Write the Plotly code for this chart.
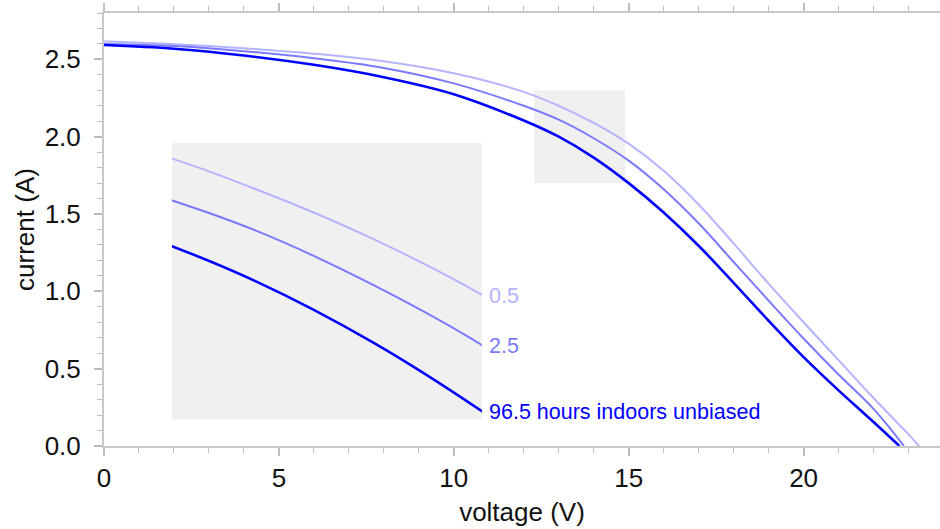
import numpy as np
import plotly.graph_objects as go

# ---- data ----
v_96 = [0, 2, 4, 6, 8, 10, 12, 13, 14, 15, 16, 17, 18, 19, 20, 21, 22, 22.74]
i_96 = [2.593, 2.569, 2.525, 2.465, 2.385, 2.275, 2.105, 2.0, 1.865, 1.70, 1.51, 1.295, 1.055, 0.81, 0.575, 0.36, 0.155, 0.0]

v_25 = [0, 2, 4, 6, 8, 10, 12, 13, 14, 15, 16, 17, 18, 19, 20, 21, 22, 22.87]
i_25 = [2.60, 2.586, 2.553, 2.507, 2.445, 2.345, 2.20, 2.11, 1.99, 1.845, 1.66, 1.44, 1.19, 0.94, 0.695, 0.462, 0.24, 0.0]

v_05 = [0, 2, 4, 6, 8, 10, 12, 13, 14, 15, 16, 17, 18, 19, 20, 21, 22, 23, 23.3]
i_05 = [2.615, 2.598, 2.572, 2.537, 2.488, 2.41, 2.29, 2.20, 2.09, 1.955, 1.78, 1.562, 1.31, 1.05, 0.80, 0.555, 0.31, 0.075, 0.0]

labels = ["0.5", "2.5", "96.5 hours indoors unbiased"]
colors = ["#b4b4ff", "#7a7aff", "#0000ff"]
widths = [2, 2, 2.6]
series = [(v_05, i_05), (v_25, i_25), (v_96, i_96)]

zoom_x = [12.3, 14.9]
zoom_y = [1.7, 2.3]

x_range = [0, 23.9]
y_range = [0, 2.8]

inset_xdom = [0.0813, 0.452]
inset_ydom = [0.0617, 0.700]

FONT = "Liberation Sans, Arial, Helvetica, sans-serif"

fig = go.Figure()

for ax, ay in (("x", "y"), ("x2", "y2")):
    for (v, i), c, w in zip(series, colors, widths):
        fig.add_trace(go.Scatter(x=v, y=i, mode="lines",
                                 line=dict(color=c, width=w, shape="spline", smoothing=1.0),
                                 xaxis=ax, yaxis=ay, showlegend=False, hoverinfo="skip"))

# grey highlight in main plot
fig.add_shape(type="rect", xref="x", yref="y", x0=zoom_x[0], x1=zoom_x[1], y0=zoom_y[0], y1=zoom_y[1],
              fillcolor="#f0f0f0", line=dict(width=0), layer="below")
# grey inset background
fig.add_shape(type="rect", xref="paper", yref="paper", x0=inset_xdom[0], x1=inset_xdom[1],
              y0=inset_ydom[0], y1=inset_ydom[1],
              fillcolor="#f0f0f0", line=dict(width=0), layer="below")

for (v, i), c, lab in zip(series, colors, labels):
    yend = float(np.interp(zoom_x[1], v, i))
    fig.add_annotation(x=zoom_x[1], y=yend, xref="x2", yref="y2", text=lab, showarrow=False,
                       xanchor="left", yanchor="middle", xshift=5,
                       font=dict(family=FONT, size=21.5, color=c))

axis_common = dict(showgrid=False, zeroline=False, linecolor="#c8c8c8", linewidth=2,
                   ticks="outside", tickcolor="#bdbdbd", tickwidth=1.5, ticklen=8,
                   tickfont=dict(family=FONT, size=26, color="#111111"),
                   title_font=dict(family=FONT, size=26, color="#111111"))

fig.update_layout(
    width=940, height=529,
    margin=dict(l=104, r=0, t=13, b=83),
    paper_bgcolor="white", plot_bgcolor="rgba(0,0,0,0)",
    xaxis=dict(range=x_range, dtick=5, tick0=0, mirror="ticks", showline=True,
               title=dict(text="voltage (V)", standoff=11),
               minor=dict(dtick=1, ticklen=5, ticks="outside", tickcolor="#bdbdbd", tickwidth=1.2),
               **axis_common),
    yaxis=dict(range=y_range, dtick=0.5, tick0=0, tickformat=".1f", showline=True, mirror=False,
               ticklabelstandoff=8,
               title=dict(text="current (A)", standoff=3),
               minor=dict(dtick=0.1, ticklen=5, ticks="outside", tickcolor="#bdbdbd", tickwidth=1.2),
               **axis_common),
    xaxis2=dict(domain=inset_xdom, range=zoom_x, visible=False, anchor="y2"),
    yaxis2=dict(domain=inset_ydom, range=zoom_y, visible=False, anchor="x2"),
)

fig.write_html("out.html")
